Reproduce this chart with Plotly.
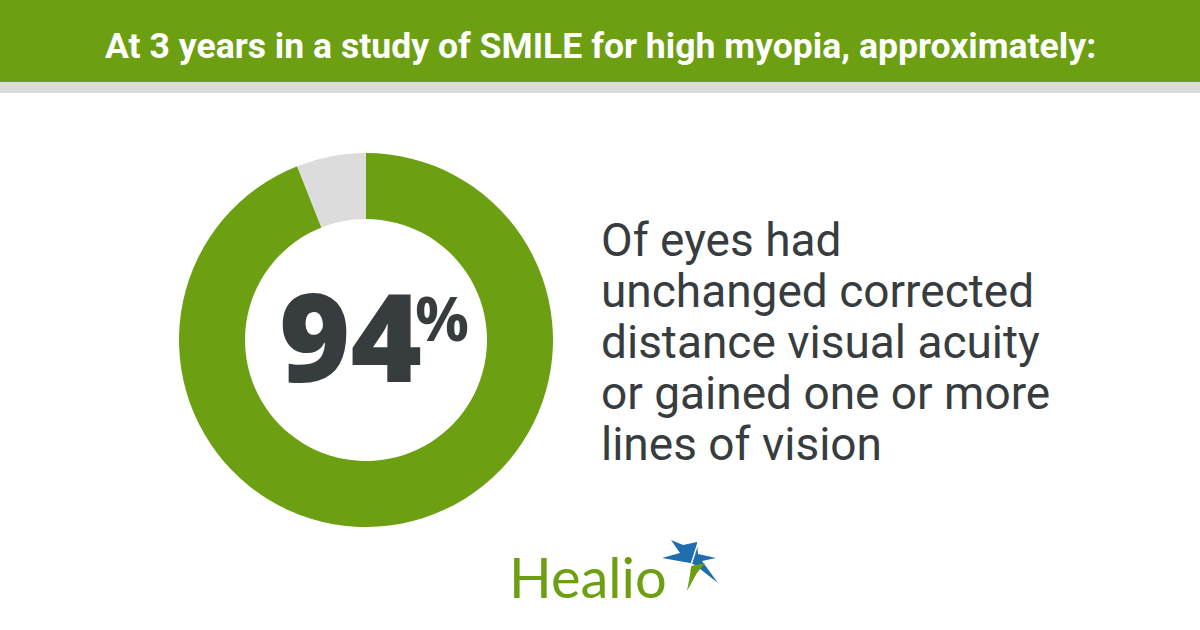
import plotly.graph_objects as go

# ---- data ----
categories = ["Unchanged or gained lines", "Other"]
values = [94, 6]
slice_colors = ["#6CA012", "#DCDCDC"]
headline = "At 3 years in a study of SMILE for high myopia, approximately:"
big_value = "94"
big_unit = "%"
desc_lines = ["Of eyes had", "unchanged corrected", "distance visual acuity",
              "or gained one or more", "lines of vision"]
brand = "Healio"

W, H = 1200, 630
GREEN = "#6CA012"
DARK = "#373C3F"
BLUE = "#1F6DAE"


def px(x):
    return x / W


def py(y):
    return 1 - y / H


def path(points):
    return "M " + " L ".join(f"{px(x):.5f},{py(y):.5f}" for x, y in points) + " Z"


fig = go.Figure()

cx, cy, R = 366, 340, 187
fig.add_trace(go.Pie(
    labels=categories, values=values, sort=False, direction="clockwise",
    rotation=0, hole=0.647,
    marker=dict(colors=slice_colors, line=dict(width=0)),
    textinfo="none", hoverinfo="skip", showlegend=False,
    domain=dict(x=[px(cx - R), px(cx + R)], y=[py(cy + R), py(cy - R)]),
))

shapes = [
    dict(type="rect", xref="paper", yref="paper", x0=0, x1=1, y0=py(82), y1=1,
         fillcolor=GREEN, line=dict(width=0), layer="below"),
    dict(type="rect", xref="paper", yref="paper", x0=0, x1=1, y0=py(93), y1=py(82),
         fillcolor="#DCDCDC", line=dict(width=0), layer="below"),
    # logo star (blue upper part)
    dict(type="path", xref="paper", yref="paper",
         path=path([(671, 540), (683, 545), (697, 542), (698, 554), (716, 558),
                    (702, 561), (718, 583), (695, 565), (690, 563), (662, 558),
                    (680, 553)]),
         fillcolor=BLUE, line=dict(width=0)),
    # logo star (green lower part)
    dict(type="path", xref="paper", yref="paper",
         path=path([(691, 566), (705, 563), (697, 573), (687, 591), (690, 575)]),
         fillcolor=GREEN, line=dict(width=0)),
    dict(type="line", xref="paper", yref="paper", x0=px(690), y0=py(568),
         x1=px(698), y1=py(543), line=dict(color="white", width=1.5)),
]

annotations = [
    dict(text=f"<b>{headline}</b>", x=px(600), y=py(46), xref="paper", yref="paper",
         xanchor="center", yanchor="middle", showarrow=False,
         font=dict(family="Roboto", size=35.6, color="white")),
    dict(text=big_value, x=px(350), y=py(335), xref="paper", yref="paper",
         xanchor="center", yanchor="middle", showarrow=False,
         font=dict(family="Open Sans", size=122, color=DARK, weight=800)),
    dict(text=big_unit, x=px(442), y=py(318), xref="paper", yref="paper",
         xanchor="center", yanchor="middle", showarrow=False,
         font=dict(family="Open Sans", size=60, color=DARK, weight=700)),
    dict(text=brand, x=px(507), y=py(576), xref="paper", yref="paper",
         xanchor="left", yanchor="middle", showarrow=False,
         font=dict(family="Lato", size=56, color=GREEN)),
]

baselines = [256, 307, 358, 409, 460]
for line, b in zip(desc_lines, baselines):
    annotations.append(dict(
        text=line, x=px(599), y=py(b - 16), xref="paper", yref="paper",
        xanchor="left", yanchor="middle", showarrow=False,
        font=dict(family="Roboto", size=46, color=DARK)))

fig.update_layout(
    width=W, height=H, margin=dict(l=0, r=0, t=0, b=0),
    paper_bgcolor="white", plot_bgcolor="white",
    shapes=shapes, annotations=annotations,
    xaxis=dict(visible=False), yaxis=dict(visible=False),
)

fig.write_html("out.html", config={"displayModeBar": False},
               post_script="document.body.style.margin='0';")
